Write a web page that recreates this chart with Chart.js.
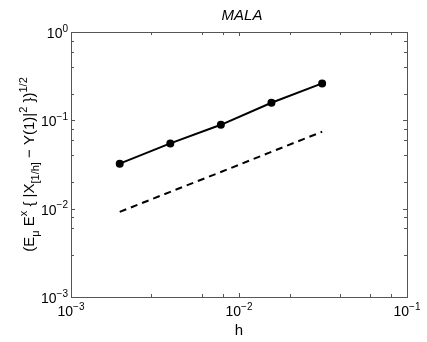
<!DOCTYPE html>
<html>
<head>
<meta charset="utf-8">
<script src="https://cdn.jsdelivr.net/npm/chart.js@4.4.1/dist/chart.umd.min.js"></script>
<style>
  html, body { margin: 0; padding: 0; background: #fff; }
  #wrap { width: 427px; height: 342px; }
</style>
</head>
<body>
<div id="wrap"><canvas id="mala" width="427" height="342"></canvas></div>
<script>
// step sizes h and the measured errors
var hValues   = [0.00195, 0.0039, 0.0078, 0.0156, 0.03125];
var errValues = [0.0323, 0.0548, 0.089, 0.158, 0.262];
// reference slope line (dashed)
var refValues = [0.0092, 0.0155, 0.026, 0.044, 0.0743];
// axis limits / major tick exponents
var xExponents = [-3, -2, -1];
var yExponents = [-3, -2, -1, 0];

var FONT = "'Liberation Sans', Arial, Helvetica, sans-serif";

function pts(xs, ys) {
    return xs.map(function (x, i) { return { x: x, y: ys[i] }; });
}

// draws a run of text pieces (normal / sup / sub) starting at x, baseline y
function richText(ctx, parts, size, align) {
    var widths = parts.map(function (p) {
        ctx.font = (p.m === 'n' ? size : Math.round(size * 0.72)) + 'px ' + FONT;
        return ctx.measureText(p.t).width;
    });
    var total = widths.reduce(function (a, b) { return a + b; }, 0);
    var x = align === 'center' ? -total / 2 : (align === 'right' ? -total : 0);
    parts.forEach(function (p, i) {
        var dy = 0;
        if (p.m === 'sup') dy = -size * 0.45;
        if (p.m === 'sub') dy = size * 0.3;
        ctx.font = (p.m === 'n' ? size : Math.round(size * 0.72)) + 'px ' + FONT;
        ctx.fillText(p.t, x, dy);
        x += widths[i];
    });
}

var axesPlugin = {
    id: 'matlabAxes',
    afterDraw: function (chart) {
        var ctx = chart.ctx, a = chart.chartArea;
        var xs = chart.scales.x, ys = chart.scales.y;
        ctx.save();
        ctx.textBaseline = 'alphabetic';
        ctx.textAlign = 'left';

        // box
        ctx.strokeStyle = '#555';
        ctx.lineWidth = 1;
        ctx.strokeRect(Math.round(a.left) + 0.5, Math.round(a.top) + 0.5,
            Math.round(a.right - a.left), Math.round(a.bottom - a.top));

        // inward ticks on all four sides, from the library's log ticks
        ctx.beginPath();
        xs.ticks.forEach(function (t) {
            var px = Math.round(xs.getPixelForValue(t.value)) + 0.5;
            var len = t.major ? 4 : 3;
            ctx.moveTo(px, a.bottom); ctx.lineTo(px, a.bottom - len);
            ctx.moveTo(px, a.top); ctx.lineTo(px, a.top + len);
        });
        ys.ticks.forEach(function (t) {
            var py = Math.round(ys.getPixelForValue(t.value)) + 0.5;
            var len = t.major ? 4 : 3;
            ctx.moveTo(a.left, py); ctx.lineTo(a.left + len, py);
            ctx.moveTo(a.right, py); ctx.lineTo(a.right - len, py);
        });
        ctx.stroke();

        ctx.fillStyle = '#000';
        // x tick labels
        xExponents.forEach(function (e) {
            var px = xs.getPixelForValue(Math.pow(10, e));
            ctx.save();
            ctx.translate(px, a.bottom + 19);
            richText(ctx, [{ t: '10', m: 'n' }, { t: '\u2212' + Math.abs(e), m: 'sup' }], 14, 'center');
            ctx.restore();
        });
        // y tick labels
        yExponents.forEach(function (e) {
            var py = ys.getPixelForValue(Math.pow(10, e));
            var ex = e === 0 ? '0' : '\u2212' + Math.abs(e);
            ctx.save();
            ctx.translate(a.left - 3, py + 6);
            richText(ctx, [{ t: '10', m: 'n' }, { t: ex, m: 'sup' }], 14, 'right');
            ctx.restore();
        });

        // x label
        ctx.save();
        ctx.translate((a.left + a.right) / 2, a.bottom + 38);
        richText(ctx, [{ t: 'h', m: 'n' }], 15, 'center');
        ctx.restore();

        // y label
        ctx.save();
        ctx.translate(34, (a.top + a.bottom) / 2);
        ctx.rotate(-Math.PI / 2);
        richText(ctx, [
            { t: '(E', m: 'n' }, { t: '\u03bc', m: 'sub' },
            { t: ' E', m: 'n' }, { t: 'x', m: 'sup' },
            { t: ' { |X', m: 'n' }, { t: '[1/h]', m: 'sub' },
            { t: ' \u2212 Y(1)|', m: 'n' }, { t: '2', m: 'sup' },
            { t: ' })', m: 'n' }, { t: '1/2', m: 'sup' }
        ], 15, 'center');
        ctx.restore();

        // title
        ctx.font = 'italic 15px ' + FONT;
        ctx.textAlign = 'center';
        ctx.fillText('MALA', (a.left + a.right) / 2 + 3, 20);
        ctx.restore();
    }
};

var ctx = document.getElementById('mala');
var myChart = new Chart(ctx, {
    type: 'scatter',
    data: {
        datasets: [{
            data: pts(hValues, errValues),
            showLine: true,
            borderColor: '#000',
            backgroundColor: '#000',
            borderWidth: 2,
            pointRadius: 3,
            pointHoverRadius: 3
        }, {
            data: pts(hValues, refValues),
            showLine: true,
            borderColor: '#000',
            borderWidth: 2,
            borderDash: [7, 5],
            pointRadius: 0
        }]
    },
    options: {
        responsive: false,
        animation: false,
        events: [],
        layout: { padding: { left: 71, right: 20, top: 32, bottom: 45 } },
        plugins: {
            legend: { display: false },
            tooltip: { enabled: false }
        },
        scales: {
            x: {
                type: 'logarithmic',
                display: false,
                min: 1e-3, max: 1e-1
            },
            y: {
                type: 'logarithmic',
                display: false,
                min: 1e-3, max: 1
            }
        }
    },
    plugins: [axesPlugin]
});
</script>
</body>
</html>
